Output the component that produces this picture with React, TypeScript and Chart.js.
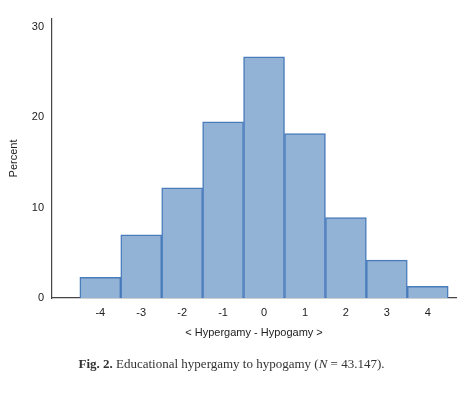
import React, { useEffect, useRef } from "react";
import { Chart, registerables } from "chart.js";

Chart.register(...registerables);

const categories = [-4, -3, -2, -1, 0, 1, 2, 3, 4];
const percentValues = [2.3, 7.0, 12.2, 19.5, 26.7, 18.2, 8.9, 4.2, 1.3];
const yTickValues = [0, 10, 20, 30];
const xTitle = "< Hypergamy - Hypogamy >";
const yTitle = "Percent";

export default function App() {
  const ref = useRef<HTMLCanvasElement | null>(null);

  useEffect(() => {
    if (!ref.current) return;
    const chart = new Chart(ref.current, {
      type: "bar",
      data: {
        datasets: [
          {
            data: categories.map((c, i) => ({ x: c, y: percentValues[i] })),
            backgroundColor: "#92b2d6",
            borderColor: "#4a7cbc",
            borderWidth: 1.5,
            barPercentage: 1,
            categoryPercentage: 1,
          },
        ],
      },
      options: {
        responsive: false,
        animation: false,
        layout: { padding: { left: 0, right: 13, top: 19, bottom: 55 } },
        plugins: { legend: { display: false }, tooltip: { enabled: false } },
        scales: {
          x: {
            type: "linear",
            offset: false,
            min: -5.18,
            max: 4.69,
            grid: { display: false, drawTicks: false },
            border: { display: true, color: "#444", width: 1.2 },
            afterBuildTicks: (s: any) => {
              s.ticks = categories.map((v) => ({ value: v }));
            },
            afterFit: (s: any) => {
              s.height = 42;
            },
            ticks: {
              padding: 8,
              color: "#222",
              font: { family: "Liberation Sans", size: 11 },
              callback: (v: any) => String(v),
              maxRotation: 0,
            },
            title: {
              display: true,
              text: xTitle,
              color: "#222",
              font: { family: "Liberation Sans", size: 11 },
              padding: { top: 0, bottom: 0 },
            },
          },
          y: {
            min: 0,
            max: 30.9,
            grid: { display: false, drawTicks: false },
            border: { display: true, color: "#444", width: 1.2 },
            afterBuildTicks: (s: any) => {
              s.ticks = yTickValues.map((v) => ({ value: v }));
            },
            afterFit: (s: any) => {
              s.width = 52;
            },
            ticks: {
              padding: 8,
              color: "#222",
              font: { family: "Liberation Sans", size: 11 },
            },
            title: {
              display: true,
              text: yTitle,
              color: "#222",
              font: { family: "Liberation Sans", size: 11 },
              padding: { top: 7.4, bottom: 0 },
            },
          },
        },
      },
    });
    return () => chart.destroy();
  }, []);

  return (
    <div style={{ position: "fixed", left: 0, top: 0, width: 469, height: 395, background: "#fff" }}>
      <canvas ref={ref} width={469} height={395} style={{ display: "block" }} />
      <div
        style={{
          position: "absolute",
          left: 0,
          width: 469,
          top: 356,
          textAlign: "center",
          fontFamily: "'Liberation Serif', serif",
          fontSize: 13,
          lineHeight: "16px",
          color: "#333",
          whiteSpace: "nowrap",
        }}
      >
        <span style={{ display: "inline-block", marginLeft: -6 }}>
          <b>Fig. 2.</b> Educational hypergamy to hypogamy (<i>N</i> = 43.147).
        </span>
      </div>
    </div>
  );
}
